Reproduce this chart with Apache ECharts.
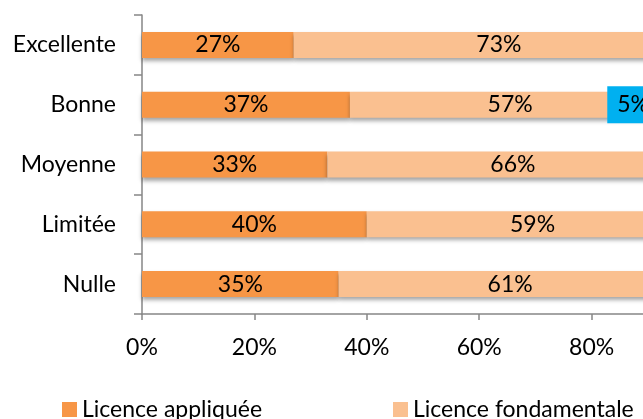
<!DOCTYPE html>
<html>
<head>
<meta charset="utf-8">
<script src="https://cdn.jsdelivr.net/npm/echarts@6/dist/echarts.min.js"></script>
<style>
  html, body { margin: 0; padding: 0; background: #fff; }
  #main { width: 643px; height: 419px; }
</style>
</head>
<body>
<div id="main"></div>
<script>
// données (en %)
var niveaux = ['Excellente', 'Bonne', 'Moyenne', 'Limitée', 'Nulle'];
var licenceAppliquee = [27, 37, 33, 40, 35];
var licenceFondamentale = [73, 57, 66, 59, 61];
var autre = ['-', 5, '-', '-', '-'];
var ticksX = [0, 20, 40, 60, 80, 100];

var police = 'Lato, "Liberation Sans", sans-serif';
var ombre = {
    shadowColor: 'rgba(0,0,0,0.35)',
    shadowBlur: 4,
    shadowOffsetY: 3
};

var myChart = echarts.init(document.getElementById('main'));

var option = {
    animation: false,
    textStyle: { fontFamily: police },
    grid: {
        left: 142,
        top: 15,
        width: 562,   // 100% tombe hors du cadre (coupé comme l'original)
        height: 299,
        containLabel: false,
        outerBoundsMode: 'none'
    },
    legend: [{
        data: ['Licence appliquée'],
        left: 57,
        top: 393,
        itemWidth: 15,
        itemHeight: 15,
        icon: 'rect',
        textStyle: { fontSize: 23, color: '#000', fontFamily: police }
    }, {
        data: ['Licence fondamentale'],
        left: 388,
        top: 393,
        itemWidth: 15,
        itemHeight: 15,
        icon: 'rect',
        textStyle: { fontSize: 23, color: '#000', fontFamily: police }
    }],
    xAxis: {
        type: 'value',
        min: ticksX[0],
        max: ticksX[ticksX.length - 1],
        interval: 20,
        axisLine: { show: true, lineStyle: { color: '#868686', width: 1.5 } },
        axisTick: { show: true, length: 6, lineStyle: { color: '#868686', width: 1.5 } },
        splitLine: { show: false },
        axisLabel: {
            formatter: '{value}%',
            fontSize: 23,
            color: '#000',
            margin: 22,
            fontFamily: police
        }
    },
    yAxis: {
        type: 'category',
        inverse: true,
        data: niveaux,
        axisLine: { show: true, lineStyle: { color: '#868686', width: 1.5 } },
        axisTick: { show: true, length: 8, lineStyle: { color: '#868686', width: 1.5 } },
        axisLabel: {
            fontSize: 23,
            color: '#000',
            margin: 26,
            fontFamily: police
        }
    },
    series: [{
        name: 'Licence appliquée',
        type: 'bar',
        stack: 'total',
        barWidth: 26,
        data: licenceAppliquee,
        itemStyle: Object.assign({ color: '#F79646' }, ombre),
        label: {
            show: true,
            position: 'inside',
            formatter: '{c}%',
            fontSize: 23,
            color: '#000',
            fontFamily: police
        }
    }, {
        name: 'Licence fondamentale',
        type: 'bar',
        stack: 'total',
        data: licenceFondamentale,
        itemStyle: Object.assign({ color: '#FAC090' }, ombre),
        label: {
            show: true,
            position: 'inside',
            formatter: '{c}%',
            fontSize: 23,
            color: '#000',
            fontFamily: police
        }
    }, {
        name: 'Autre',
        type: 'bar',
        stack: 'total',
        data: autre,
        itemStyle: Object.assign({ color: '#00B0F0' }, ombre),
        label: {
            show: true,
            position: 'insideLeft',
            distance: 0,
            offset: [-63, 0],
            formatter: '{c}%',
            fontSize: 23,
            color: '#000',
            backgroundColor: '#00B0F0',
            padding: [7, 8, 7, 10],
            fontFamily: police
        }
    }]
};

myChart.setOption(option);
</script>
</body>
</html>
